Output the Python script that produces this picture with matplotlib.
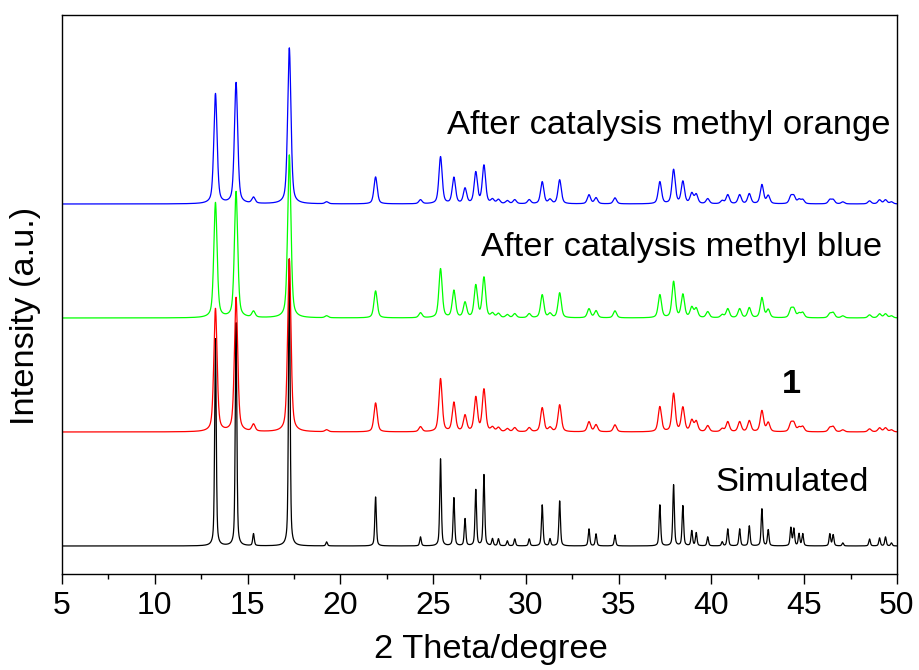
import matplotlib

matplotlib.use("Agg")
import matplotlib.pyplot as plt
import numpy as np
from matplotlib.ticker import MultipleLocator

plt.rcParams["font.family"] = ["Liberation Sans", "DejaVu Sans"]

# peak positions (2 theta, degree)
peak_pos = [13.27, 14.38, 15.32, 17.25, 19.26, 21.90, 24.32, 25.40, 26.12, 26.72,
            27.30, 27.74, 28.20, 28.52, 29.00, 29.40, 30.18, 30.88, 31.30, 31.82,
            33.40, 33.78, 34.80, 37.22, 37.96, 38.46, 38.94, 39.18, 39.80, 40.58,
            40.88, 41.52, 42.04, 42.72, 43.06, 44.28, 44.44, 44.72, 44.92, 46.38,
            46.56, 47.08, 48.52, 49.06, 49.38, 49.70]

# peak heights for each trace (arbitrary units)
sim_h = [207, 223, 12, 287, 4, 49, 9, 87, 48, 27,
         56, 71, 7, 7, 5, 7, 7, 41, 7, 45,
         17, 12, 11, 41, 61, 40, 15, 13, 9, 4,
         17, 17, 20, 37, 16, 18, 17, 12, 12, 12,
         11, 3, 7, 8, 9, 3]
cmpd1_h = [123, 134, 7, 173, 2, 29, 5, 53, 29, 16,
           34, 42, 4, 4, 3, 4, 4, 24, 4, 27,
           10, 7, 7, 25, 38, 24, 11, 10, 6, 3,
           10, 10, 11, 21, 9, 8, 8, 4, 5, 4,
           5, 2, 3, 4, 4, 2]
mblue_h = [115, 126, 6, 163, 2, 27, 5, 49, 27, 15,
           32, 40, 4, 4, 3, 4, 4, 23, 4, 25,
           9, 7, 7, 23, 36, 23, 10, 9, 6, 3,
           9, 9, 10, 20, 8, 8, 8, 4, 5, 4,
           5, 2, 3, 4, 4, 2]
morange_h = [110, 121, 6, 156, 2, 27, 4, 47, 26, 15,
             31, 38, 4, 4, 3, 4, 4, 22, 4, 24,
             9, 6, 6, 22, 34, 22, 10, 9, 5, 3,
             9, 9, 10, 19, 8, 7, 7, 4, 4, 4,
             4, 2, 3, 4, 4, 2]

labels = ["Simulated", "1", "After catalysis methyl blue", "After catalysis methyl orange"]
colors = ["black", "#ff0000", "#00ff00", "#0000ff"]
offsets = [28, 142, 256, 370]
fwhm = [0.10, 0.21, 0.21, 0.21]


def profile(x, pos, heights, w, eta=0.5):
    y = np.zeros_like(x)
    for p, h in zip(pos, heights):
        d = (x - p) / (w / 2)
        y += h * (eta / (1 + d ** 2) + (1 - eta) * np.exp(-np.log(2) * d ** 2))
    return y


def main() -> None:
    x = np.linspace(5, 50, 9001)
    fig = plt.figure(figsize=(9.2, 6.7), dpi=100)
    ax = fig.add_axes([0.0674, 0.1433, 0.9076, 0.8343])

    for heights, color, off, w in zip([sim_h, cmpd1_h, mblue_h, morange_h], colors, offsets, fwhm):
        ax.plot(x, profile(x, peak_pos, heights, w) + off, color=color, lw=0.9)

    fs = 24.8
    ax.text(37.71, 449, labels[3], fontsize=fs, ha="center", va="center")
    ax.text(38.39, 327, labels[2], fontsize=fs, ha="center", va="center")
    ax.text(44.32, 189, labels[1], fontsize=fs, ha="center", va="center", fontweight="bold")
    ax.text(44.34, 91, labels[0], fontsize=fs, ha="center", va="center")

    ax.set_xlim(5, 50)
    ax.set_ylim(0, 559)
    ax.xaxis.set_major_locator(MultipleLocator(5))
    ax.xaxis.set_minor_locator(MultipleLocator(2.5))
    ax.tick_params(axis="x", which="major", direction="out", length=7, width=1.0, labelsize=23, pad=5)
    ax.tick_params(axis="x", which="minor", direction="out", length=3.5, width=1.0)
    ax.set_yticks([])
    for s in ax.spines.values():
        s.set_linewidth(1.0)

    ax.set_xlabel("2 Theta/degree", fontsize=fs)
    ax.set_ylabel("Intensity (a.u.)", fontsize=fs)
    ax.xaxis.set_label_coords(0.514, -0.108)
    ax.yaxis.set_label_coords(-0.025, 0.4615)

    fig.savefig("out.png", dpi=100)
    plt.close(fig)


if __name__ == "__main__":
    main()
